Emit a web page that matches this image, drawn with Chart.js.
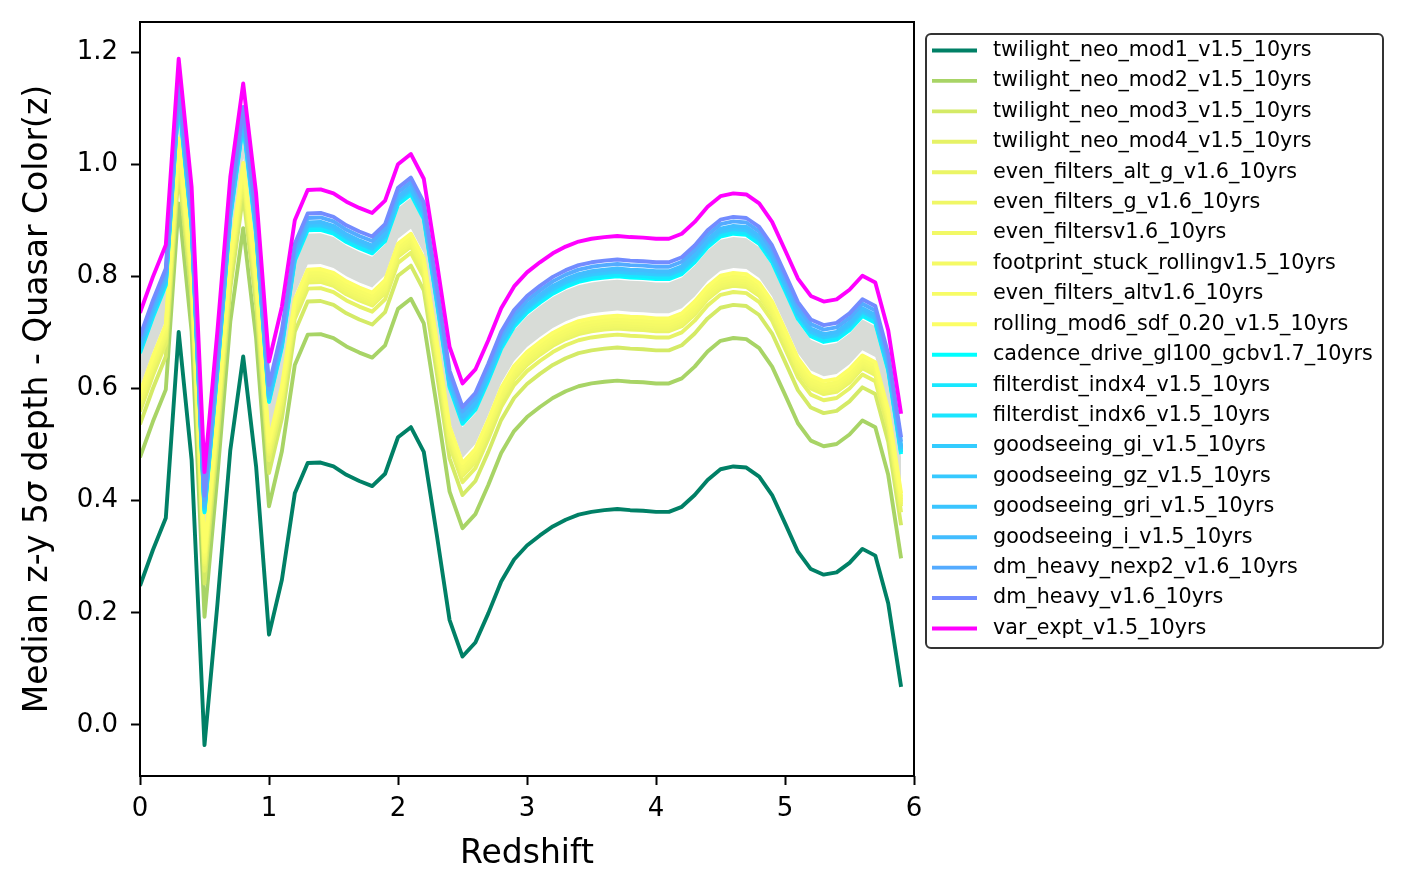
<!DOCTYPE html>
<html>
<head>
<meta charset="utf-8">
<title>Median z-y depth - quasar color</title>
<script src="https://cdn.jsdelivr.net/npm/chart.js@4.4.0/dist/chart.umd.min.js"></script>
<style>
  body { margin: 0; background: #fff; }
</style>
</head>
<body>
<canvas id="depth_chart" width="1402" height="890"></canvas>
<script>
// redshift grid, one point every 0.1
const redshift = [0.0, 0.1, 0.2, 0.3, 0.4, 0.5, 0.6, 0.7, 0.8, 0.9,
  1.0, 1.1, 1.2, 1.3, 1.4, 1.5, 1.6, 1.7, 1.8, 1.9,
  2.0, 2.1, 2.2, 2.3, 2.4, 2.5, 2.6, 2.7, 2.8, 2.9,
  3.0, 3.1, 3.2, 3.3, 3.4, 3.5, 3.6, 3.7, 3.8, 3.9,
  4.0, 4.1, 4.2, 4.3, 4.4, 4.5, 4.6, 4.7, 4.8, 4.9,
  5.0, 5.1, 5.2, 5.3, 5.4, 5.5, 5.6, 5.7, 5.8, 5.9];

const x_ticks = [0, 1, 2, 3, 4, 5, 6];
const y_ticks = [0.0, 0.2, 0.4, 0.6, 0.8, 1.0, 1.2];

const twilight_neo_mod1 = [0.248, 0.312, 0.369, 0.701, 0.473, -0.036, 0.215, 0.490, 0.657, 0.461,
  0.161, 0.259, 0.413, 0.467, 0.468, 0.461, 0.446, 0.435, 0.426, 0.448,
  0.513, 0.531, 0.487, 0.340, 0.187, 0.122, 0.147, 0.199, 0.256, 0.295,
  0.320, 0.338, 0.354, 0.366, 0.375, 0.380, 0.383, 0.385, 0.383, 0.382,
  0.380, 0.380, 0.389, 0.410, 0.437, 0.456, 0.461, 0.459, 0.443, 0.410,
  0.360, 0.309, 0.278, 0.268, 0.272, 0.289, 0.314, 0.302, 0.217, 0.068];

const twilight_neo_mod2 = [0.477, 0.541, 0.598, 0.930, 0.702, 0.193, 0.444, 0.719, 0.886, 0.690,
  0.390, 0.488, 0.642, 0.696, 0.697, 0.690, 0.675, 0.664, 0.655, 0.677,
  0.742, 0.760, 0.716, 0.569, 0.416, 0.351, 0.376, 0.428, 0.485, 0.524,
  0.549, 0.567, 0.583, 0.595, 0.604, 0.609, 0.612, 0.614, 0.612, 0.611,
  0.609, 0.609, 0.618, 0.639, 0.666, 0.685, 0.690, 0.688, 0.672, 0.639,
  0.589, 0.538, 0.507, 0.497, 0.501, 0.518, 0.543, 0.531, 0.446, 0.297];

const twilight_neo_mod3 = [0.536, 0.600, 0.657, 0.989, 0.761, 0.252, 0.503, 0.778, 0.945, 0.749,
  0.449, 0.547, 0.701, 0.755, 0.756, 0.749, 0.734, 0.723, 0.714, 0.736,
  0.801, 0.819, 0.775, 0.628, 0.475, 0.410, 0.435, 0.487, 0.544, 0.583,
  0.608, 0.626, 0.642, 0.654, 0.663, 0.668, 0.671, 0.673, 0.671, 0.670,
  0.668, 0.668, 0.677, 0.698, 0.725, 0.744, 0.749, 0.747, 0.731, 0.698,
  0.648, 0.597, 0.566, 0.556, 0.560, 0.577, 0.602, 0.590, 0.505, 0.356];

const twilight_neo_mod4 = [0.559, 0.623, 0.680, 1.012, 0.784, 0.275, 0.526, 0.801, 0.968, 0.772,
  0.472, 0.570, 0.724, 0.778, 0.779, 0.772, 0.757, 0.746, 0.737, 0.759,
  0.824, 0.842, 0.798, 0.651, 0.498, 0.433, 0.458, 0.510, 0.567, 0.606,
  0.631, 0.649, 0.665, 0.677, 0.686, 0.691, 0.694, 0.696, 0.694, 0.693,
  0.691, 0.691, 0.700, 0.721, 0.748, 0.767, 0.772, 0.770, 0.754, 0.721,
  0.671, 0.620, 0.589, 0.579, 0.583, 0.600, 0.625, 0.613, 0.528, 0.379];

const even_filters_alt_g = [0.570, 0.634, 0.691, 1.023, 0.795, 0.286, 0.537, 0.812, 0.979, 0.783,
  0.483, 0.581, 0.735, 0.789, 0.790, 0.783, 0.768, 0.757, 0.748, 0.770,
  0.835, 0.853, 0.809, 0.662, 0.509, 0.444, 0.469, 0.521, 0.578, 0.617,
  0.642, 0.660, 0.676, 0.688, 0.697, 0.702, 0.705, 0.707, 0.705, 0.704,
  0.702, 0.702, 0.711, 0.732, 0.759, 0.778, 0.783, 0.781, 0.765, 0.732,
  0.682, 0.631, 0.600, 0.590, 0.594, 0.611, 0.636, 0.624, 0.539, 0.390];

const even_filters_g = [0.574, 0.638, 0.695, 1.027, 0.799, 0.290, 0.541, 0.816, 0.983, 0.787,
  0.487, 0.585, 0.739, 0.793, 0.794, 0.787, 0.772, 0.761, 0.752, 0.774,
  0.839, 0.857, 0.813, 0.666, 0.513, 0.448, 0.473, 0.525, 0.582, 0.621,
  0.646, 0.664, 0.680, 0.692, 0.701, 0.706, 0.709, 0.711, 0.709, 0.708,
  0.706, 0.706, 0.715, 0.736, 0.763, 0.782, 0.787, 0.785, 0.769, 0.736,
  0.686, 0.635, 0.604, 0.594, 0.598, 0.615, 0.640, 0.628, 0.543, 0.394];

const even_filters = [0.578, 0.642, 0.699, 1.031, 0.803, 0.294, 0.545, 0.820, 0.987, 0.791,
  0.491, 0.589, 0.743, 0.797, 0.798, 0.791, 0.776, 0.765, 0.756, 0.778,
  0.843, 0.861, 0.817, 0.670, 0.517, 0.452, 0.477, 0.529, 0.586, 0.625,
  0.650, 0.668, 0.684, 0.696, 0.705, 0.710, 0.713, 0.715, 0.713, 0.712,
  0.710, 0.710, 0.719, 0.740, 0.767, 0.786, 0.791, 0.789, 0.773, 0.740,
  0.690, 0.639, 0.608, 0.598, 0.602, 0.619, 0.644, 0.632, 0.547, 0.398];

const footprint_stuck_rolling = [0.582, 0.646, 0.703, 1.035, 0.807, 0.298, 0.549, 0.824, 0.991, 0.795,
  0.495, 0.593, 0.747, 0.801, 0.802, 0.795, 0.780, 0.769, 0.760, 0.782,
  0.847, 0.865, 0.821, 0.674, 0.521, 0.456, 0.481, 0.533, 0.590, 0.629,
  0.654, 0.672, 0.688, 0.700, 0.709, 0.714, 0.717, 0.719, 0.717, 0.716,
  0.714, 0.714, 0.723, 0.744, 0.771, 0.790, 0.795, 0.793, 0.777, 0.744,
  0.694, 0.643, 0.612, 0.602, 0.606, 0.623, 0.648, 0.636, 0.551, 0.402];

const even_filters_alt = [0.587, 0.651, 0.708, 1.040, 0.812, 0.303, 0.554, 0.829, 0.996, 0.800,
  0.500, 0.598, 0.752, 0.806, 0.807, 0.800, 0.785, 0.774, 0.765, 0.787,
  0.852, 0.870, 0.826, 0.679, 0.526, 0.461, 0.486, 0.538, 0.595, 0.634,
  0.659, 0.677, 0.693, 0.705, 0.714, 0.719, 0.722, 0.724, 0.722, 0.721,
  0.719, 0.719, 0.728, 0.749, 0.776, 0.795, 0.800, 0.798, 0.782, 0.749,
  0.699, 0.648, 0.617, 0.607, 0.611, 0.628, 0.653, 0.641, 0.556, 0.407];

const rolling_mod6_sdf = [0.593, 0.657, 0.714, 1.046, 0.818, 0.309, 0.560, 0.835, 1.002, 0.806,
  0.506, 0.604, 0.758, 0.812, 0.813, 0.806, 0.791, 0.780, 0.771, 0.793,
  0.858, 0.876, 0.832, 0.685, 0.532, 0.467, 0.492, 0.544, 0.601, 0.640,
  0.665, 0.683, 0.699, 0.711, 0.720, 0.725, 0.728, 0.730, 0.728, 0.727,
  0.725, 0.725, 0.734, 0.755, 0.782, 0.801, 0.806, 0.804, 0.788, 0.755,
  0.705, 0.654, 0.623, 0.613, 0.617, 0.634, 0.659, 0.647, 0.562, 0.413];

// spread of the other runs (grey band)
const others_low = [0.602, 0.666, 0.723, 1.055, 0.827, 0.318, 0.569, 0.844, 1.011, 0.815,
  0.515, 0.613, 0.767, 0.821, 0.822, 0.815, 0.800, 0.789, 0.780, 0.802,
  0.867, 0.885, 0.841, 0.694, 0.541, 0.476, 0.501, 0.553, 0.610, 0.649,
  0.674, 0.692, 0.708, 0.720, 0.729, 0.734, 0.737, 0.739, 0.737, 0.736,
  0.734, 0.734, 0.743, 0.764, 0.791, 0.810, 0.815, 0.813, 0.797, 0.764,
  0.714, 0.663, 0.632, 0.622, 0.626, 0.643, 0.668, 0.656, 0.571, 0.422];

const others_high = [0.657, 0.721, 0.778, 1.110, 0.882, 0.373, 0.624, 0.899, 1.066, 0.870,
  0.570, 0.668, 0.822, 0.876, 0.877, 0.870, 0.855, 0.844, 0.835, 0.857,
  0.922, 0.940, 0.896, 0.749, 0.596, 0.531, 0.556, 0.608, 0.665, 0.704,
  0.729, 0.747, 0.763, 0.775, 0.784, 0.789, 0.792, 0.794, 0.792, 0.791,
  0.789, 0.789, 0.798, 0.819, 0.846, 0.865, 0.870, 0.868, 0.852, 0.819,
  0.769, 0.718, 0.687, 0.677, 0.681, 0.698, 0.723, 0.711, 0.626, 0.477];

const cadence_drive = [0.663, 0.727, 0.784, 1.116, 0.888, 0.379, 0.630, 0.905, 1.072, 0.876,
  0.576, 0.674, 0.828, 0.882, 0.883, 0.876, 0.861, 0.850, 0.841, 0.863,
  0.928, 0.946, 0.902, 0.755, 0.602, 0.537, 0.562, 0.614, 0.671, 0.710,
  0.735, 0.753, 0.769, 0.781, 0.790, 0.795, 0.798, 0.800, 0.798, 0.797,
  0.795, 0.795, 0.804, 0.825, 0.852, 0.871, 0.876, 0.874, 0.858, 0.825,
  0.775, 0.724, 0.693, 0.683, 0.687, 0.704, 0.729, 0.717, 0.632, 0.483];

const filterdist_indx4 = [0.666, 0.730, 0.787, 1.119, 0.891, 0.382, 0.633, 0.908, 1.075, 0.879,
  0.579, 0.677, 0.831, 0.885, 0.886, 0.879, 0.864, 0.853, 0.844, 0.866,
  0.931, 0.949, 0.905, 0.758, 0.605, 0.540, 0.565, 0.617, 0.674, 0.713,
  0.738, 0.756, 0.772, 0.784, 0.793, 0.798, 0.801, 0.803, 0.801, 0.800,
  0.798, 0.798, 0.807, 0.828, 0.855, 0.874, 0.879, 0.877, 0.861, 0.828,
  0.778, 0.727, 0.696, 0.686, 0.690, 0.707, 0.732, 0.720, 0.635, 0.486];

const filterdist_indx6 = [0.668, 0.732, 0.789, 1.121, 0.893, 0.384, 0.635, 0.910, 1.077, 0.881,
  0.581, 0.679, 0.833, 0.887, 0.888, 0.881, 0.866, 0.855, 0.846, 0.868,
  0.933, 0.951, 0.907, 0.760, 0.607, 0.542, 0.567, 0.619, 0.676, 0.715,
  0.740, 0.758, 0.774, 0.786, 0.795, 0.800, 0.803, 0.805, 0.803, 0.802,
  0.800, 0.800, 0.809, 0.830, 0.857, 0.876, 0.881, 0.879, 0.863, 0.830,
  0.780, 0.729, 0.698, 0.688, 0.692, 0.709, 0.734, 0.722, 0.637, 0.488];

const goodseeing_gi = [0.671, 0.735, 0.792, 1.124, 0.896, 0.387, 0.638, 0.913, 1.080, 0.884,
  0.584, 0.682, 0.836, 0.890, 0.891, 0.884, 0.869, 0.858, 0.849, 0.871,
  0.936, 0.954, 0.910, 0.763, 0.610, 0.545, 0.570, 0.622, 0.679, 0.718,
  0.743, 0.761, 0.777, 0.789, 0.798, 0.803, 0.806, 0.808, 0.806, 0.805,
  0.803, 0.803, 0.812, 0.833, 0.860, 0.879, 0.884, 0.882, 0.866, 0.833,
  0.783, 0.732, 0.701, 0.691, 0.695, 0.712, 0.737, 0.725, 0.640, 0.491];

const goodseeing_gz = [0.673, 0.737, 0.794, 1.126, 0.898, 0.389, 0.640, 0.915, 1.082, 0.886,
  0.586, 0.684, 0.838, 0.892, 0.893, 0.886, 0.871, 0.860, 0.851, 0.873,
  0.938, 0.956, 0.912, 0.765, 0.612, 0.547, 0.572, 0.624, 0.681, 0.720,
  0.745, 0.763, 0.779, 0.791, 0.800, 0.805, 0.808, 0.810, 0.808, 0.807,
  0.805, 0.805, 0.814, 0.835, 0.862, 0.881, 0.886, 0.884, 0.868, 0.835,
  0.785, 0.734, 0.703, 0.693, 0.697, 0.714, 0.739, 0.727, 0.642, 0.493];

const goodseeing_gri = [0.675, 0.739, 0.796, 1.128, 0.900, 0.391, 0.642, 0.917, 1.084, 0.888,
  0.588, 0.686, 0.840, 0.894, 0.895, 0.888, 0.873, 0.862, 0.853, 0.875,
  0.940, 0.958, 0.914, 0.767, 0.614, 0.549, 0.574, 0.626, 0.683, 0.722,
  0.747, 0.765, 0.781, 0.793, 0.802, 0.807, 0.810, 0.812, 0.810, 0.809,
  0.807, 0.807, 0.816, 0.837, 0.864, 0.883, 0.888, 0.886, 0.870, 0.837,
  0.787, 0.736, 0.705, 0.695, 0.699, 0.716, 0.741, 0.729, 0.644, 0.495];

const goodseeing_i = [0.677, 0.741, 0.798, 1.130, 0.902, 0.393, 0.644, 0.919, 1.086, 0.890,
  0.590, 0.688, 0.842, 0.896, 0.897, 0.890, 0.875, 0.864, 0.855, 0.877,
  0.942, 0.960, 0.916, 0.769, 0.616, 0.551, 0.576, 0.628, 0.685, 0.724,
  0.749, 0.767, 0.783, 0.795, 0.804, 0.809, 0.812, 0.814, 0.812, 0.811,
  0.809, 0.809, 0.818, 0.839, 0.866, 0.885, 0.890, 0.888, 0.872, 0.839,
  0.789, 0.738, 0.707, 0.697, 0.701, 0.718, 0.743, 0.731, 0.646, 0.497];

const dm_heavy_nexp2 = [0.685, 0.749, 0.806, 1.138, 0.910, 0.401, 0.652, 0.927, 1.094, 0.898,
  0.598, 0.696, 0.850, 0.904, 0.905, 0.898, 0.883, 0.872, 0.863, 0.885,
  0.950, 0.968, 0.924, 0.777, 0.624, 0.559, 0.584, 0.636, 0.693, 0.732,
  0.757, 0.775, 0.791, 0.803, 0.812, 0.817, 0.820, 0.822, 0.820, 0.819,
  0.817, 0.817, 0.826, 0.847, 0.874, 0.893, 0.898, 0.896, 0.880, 0.847,
  0.797, 0.746, 0.715, 0.705, 0.709, 0.726, 0.751, 0.739, 0.654, 0.505];

const dm_heavy = [0.693, 0.757, 0.814, 1.146, 0.918, 0.409, 0.660, 0.935, 1.102, 0.906,
  0.606, 0.704, 0.858, 0.912, 0.913, 0.906, 0.891, 0.880, 0.871, 0.893,
  0.958, 0.976, 0.932, 0.785, 0.632, 0.567, 0.592, 0.644, 0.701, 0.740,
  0.765, 0.783, 0.799, 0.811, 0.820, 0.825, 0.828, 0.830, 0.828, 0.827,
  0.825, 0.825, 0.834, 0.855, 0.882, 0.901, 0.906, 0.904, 0.888, 0.855,
  0.805, 0.754, 0.723, 0.713, 0.717, 0.734, 0.759, 0.747, 0.662, 0.513];

const var_expt = [0.735, 0.799, 0.856, 1.188, 0.960, 0.451, 0.702, 0.977, 1.144, 0.948,
  0.648, 0.746, 0.900, 0.954, 0.955, 0.948, 0.933, 0.922, 0.913, 0.935,
  1.000, 1.018, 0.974, 0.827, 0.674, 0.609, 0.634, 0.686, 0.743, 0.782,
  0.807, 0.825, 0.841, 0.853, 0.862, 0.867, 0.870, 0.872, 0.870, 0.869,
  0.867, 0.867, 0.876, 0.897, 0.924, 0.943, 0.948, 0.946, 0.930, 0.897,
  0.847, 0.796, 0.765, 0.755, 0.759, 0.776, 0.801, 0.789, 0.704, 0.555];

// label, values, colour (summer for the weaker runs, cool for the better ones)
const runs = [
  ['twilight_neo_mod1_v1.5_10yrs', twilight_neo_mod1, '#008066'],
  ['twilight_neo_mod2_v1.5_10yrs', twilight_neo_mod2, '#a8d466'],
  ['twilight_neo_mod3_v1.5_10yrs', twilight_neo_mod3, '#d4ea66'],
  ['twilight_neo_mod4_v1.5_10yrs', twilight_neo_mod4, '#e6f266'],
  ['even_filters_alt_g_v1.6_10yrs', even_filters_alt_g, '#ebf566'],
  ['even_filters_g_v1.6_10yrs', even_filters_g, '#f0f766'],
  ['even_filtersv1.6_10yrs', even_filters, '#f2f966'],
  ['footprint_stuck_rollingv1.5_10yrs', footprint_stuck_rolling, '#f5fa66'],
  ['even_filters_altv1.6_10yrs', even_filters_alt, '#f7fc66'],
  ['rolling_mod6_sdf_0.20_v1.5_10yrs', rolling_mod6_sdf, '#fcfe66'],
  ['cadence_drive_gl100_gcbv1.7_10yrs', cadence_drive, '#00ffff'],
  ['filterdist_indx4_v1.5_10yrs', filterdist_indx4, '#17e8ff'],
  ['filterdist_indx6_v1.5_10yrs', filterdist_indx6, '#1ae6ff'],
  ['goodseeing_gi_v1.5_10yrs', goodseeing_gi, '#33ccff'],
  ['goodseeing_gz_v1.5_10yrs', goodseeing_gz, '#36c9ff'],
  ['goodseeing_gri_v1.5_10yrs', goodseeing_gri, '#3ac5ff'],
  ['goodseeing_i_v1.5_10yrs', goodseeing_i, '#42bdff'],
  ['dm_heavy_nexp2_v1.6_10yrs', dm_heavy_nexp2, '#54abff'],
  ['dm_heavy_v1.6_10yrs', dm_heavy, '#738cff'],
  ['var_expt_v1.5_10yrs', var_expt, '#ff00ff']
];

const FONT = '"DejaVu Sans", "Liberation Sans", sans-serif';
const LINE_W = 3.9;

function toPoints(values) {
  return values.map((v, i) => ({x: redshift[i], y: v}));
}

const datasets = [
  {
    label: 'others_low', data: toPoints(others_low),
    borderColor: 'rgba(0,0,0,0)', borderWidth: 0,
    backgroundColor: 'rgb(216,220,215)', fill: false, order: 100
  },
  {
    label: 'others_high', data: toPoints(others_high),
    borderColor: 'rgba(0,0,0,0)', borderWidth: 0,
    backgroundColor: 'rgb(216,220,215)', fill: '-1', order: 100
  }
];
runs.forEach((r, i) => {
  datasets.push({
    label: r[0], data: toPoints(r[1]),
    borderColor: r[2], backgroundColor: r[2],
    borderWidth: LINE_W, fill: false,
    order: runs.length - i   // later runs drawn on top, like matplotlib
  });
});

// frame, axis titles and the legend box
const frameAndLabels = {
  id: 'frameAndLabels',
  afterDraw(chart) {
    const ctx = chart.ctx;
    const a = chart.chartArea;
    ctx.save();

    ctx.strokeStyle = '#000';
    ctx.lineWidth = 2;
    ctx.strokeRect(a.left, a.top, a.right - a.left, a.bottom - a.top);

    ctx.fillStyle = '#000';
    ctx.textBaseline = 'alphabetic';
    ctx.textAlign = 'left';
    ctx.font = '33px ' + FONT;
    const xt = 'Redshift';
    ctx.fillText(xt, (a.left + a.right) / 2 - ctx.measureText(xt).width / 2, 863);

    // y title with an italic sigma
    const parts = [
      ['Median z-y 5', '33px ' + FONT],
      ['\u03c3', 'italic 33px ' + FONT],
      [' depth - Quasar Color(z)', '33px ' + FONT]
    ];
    let total = 0;
    parts.forEach(p => { ctx.font = p[1]; total += ctx.measureText(p[0]).width; });
    ctx.translate(47, (a.top + a.bottom) / 2);
    ctx.rotate(-Math.PI / 2);
    let px = -total / 2;
    parts.forEach(p => {
      ctx.font = p[1];
      ctx.fillText(p[0], px, 0);
      px += ctx.measureText(p[0]).width;
    });
    ctx.setTransform(1, 0, 0, 1, 0, 0);

    // legend
    const lx = 926, ly = 34, lw = 457, lh = 614;
    ctx.beginPath();
    ctx.roundRect(lx, ly, lw, lh, 5);
    ctx.fillStyle = '#fff';
    ctx.fill();
    ctx.strokeStyle = 'rgba(0,0,0,0.8)';
    ctx.lineWidth = 2;
    ctx.stroke();

    ctx.font = '20.7px ' + FONT;
    ctx.textBaseline = 'middle';
    runs.forEach((r, i) => {
      const y = 50.5 + i * 30.42;
      ctx.beginPath();
      ctx.moveTo(932, y);
      ctx.lineTo(977, y);
      ctx.strokeStyle = r[2];
      ctx.lineWidth = LINE_W;
      ctx.stroke();
      ctx.fillStyle = '#000';
      ctx.fillText(r[0], 993, y);
    });
    ctx.restore();
  }
};

const depth_chart = document.getElementById('depth_chart');

new Chart(depth_chart, {
  type: 'line',
  data: { datasets: datasets },
  options: {
    responsive: false,
    animation: false,
    devicePixelRatio: 1,
    layout: {
      autoPadding: false,
      padding: { left: 0, top: 22, right: 488, bottom: 0 }
    },
    elements: {
      point: { radius: 0, hoverRadius: 0 },
      line: { tension: 0, borderJoinStyle: 'round', borderCapStyle: 'butt' }
    },
    plugins: {
      legend: { display: false },
      tooltip: { enabled: false }
    },
    scales: {
      x: {
        type: 'linear',
        min: 0,
        max: 6,
        afterBuildTicks: s => { s.ticks = x_ticks.map(v => ({ value: v })); },
        afterFit: s => { s.height = 114; s.paddingLeft = 0; s.paddingRight = 0; },
        ticks: {
          callback: v => String(v),
          color: '#000',
          padding: 9,
          maxRotation: 0,
          font: { family: FONT, size: 26 }
        },
        grid: { drawOnChartArea: false, tickLength: 9, tickWidth: 2, tickColor: '#000' },
        border: { display: false }
      },
      y: {
        type: 'linear',
        min: -0.091,
        max: 1.2535,
        afterBuildTicks: s => { s.ticks = y_ticks.map(v => ({ value: v })); },
        afterFit: s => { s.width = 140; s.paddingTop = 0; s.paddingBottom = 0; },
        ticks: {
          callback: v => v.toFixed(1),
          color: '#000',
          padding: 13,
          font: { family: FONT, size: 26 }
        },
        grid: { drawOnChartArea: false, tickLength: 9, tickWidth: 2, tickColor: '#000' },
        border: { display: false }
      }
    }
  },
  plugins: [frameAndLabels]
});
</script>
</body>
</html>
